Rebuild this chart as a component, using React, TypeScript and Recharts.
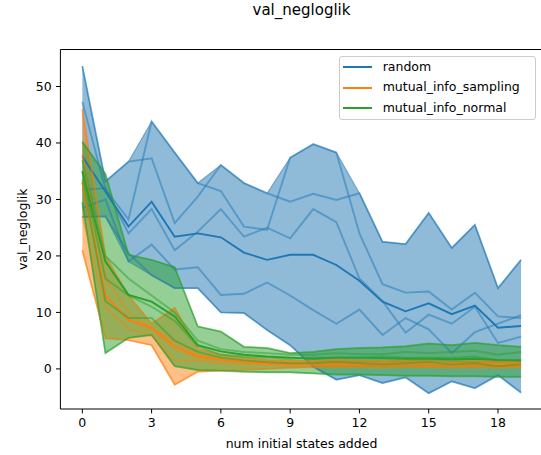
import { Area, ComposedChart, Line, ReferenceLine, XAxis, YAxis } from "recharts";

const steps = [0, 1, 2, 3, 4, 5, 6, 7, 8, 9, 10, 11, 12, 13, 14, 15, 16, 17, 18, 19];
const xTicks = [0, 3, 6, 9, 12, 15, 18];
const yTicks = [0, 10, 20, 30, 40, 50];

const seriesNames = ["random", "mutual_info_sampling", "mutual_info_normal"];
const seriesColors = ["#1f77b4", "#ff7f0e", "#2ca02c"];

// individual runs
const randomRuns = [
  [53.6, 33.2, 36.7, 37.3, 25.8, 30.5, 36.1, 32.9, 31.1, 29.6, 31.0, 29.9, 31.1, 22.5, 22.1, 27.6, 21.4, 25.5, 14.3, 19.3],
  [47.3, 31.8, 26.5, 43.8, 38.3, 32.9, 31.5, 25.2, 24.6, 37.4, 39.8, 38.3, 24.0, 15.0, 13.5, 13.7, 10.5, 13.5, 9.3, 9.0],
  [31.7, 32.0, 24.0, 28.3, 21.0, 24.3, 28.3, 23.4, 25.0, 23.1, 28.3, 26.0, 16.0, 12.0, 6.4, 9.6, 8.0, 11.0, 4.6, 5.7],
  [28.5, 30.0, 19.0, 22.0, 17.6, 18.0, 13.1, 13.3, 15.3, 13.0, 10.4, 8.0, 10.5, 6.0, 9.0, 7.0, 2.8, 6.5, 8.0, 9.5],
  [26.9, 27.0, 20.5, 16.6, 14.3, 14.3, 10.0, 9.9, 6.9, 4.2, 0.4, -1.9, -1.1, -2.5, -1.5, -4.3, -2.2, -3.4, -1.1, -4.2]
];
const randomMean = [37.6, 31.4, 25.2, 29.6, 23.4, 24.0, 23.3, 20.6, 19.3, 20.2, 20.2, 18.4, 15.6, 11.9, 10.2, 11.6, 9.7, 11.2, 7.3, 7.6];

const samplingRuns = [
  [46.0, 20.0, 13.0, 8.0, 10.8, 3.5, 2.5, 2.0, 1.6, 1.5, 1.4, 1.6, 1.5, 1.4, 1.6, 1.8, 1.7, 1.5, 1.4, 1.3],
  [38.0, 16.0, 10.0, 7.2, 5.0, 2.5, 2.0, 1.5, 1.2, 1.2, 1.1, 1.2, 1.1, 1.0, 1.2, 1.3, 1.1, 1.0, 1.0, 1.0],
  [33.0, 13.0, 8.5, 7.0, 3.5, 2.0, 1.5, 1.2, 1.0, 0.9, 0.9, 0.9, 0.8, 0.9, 0.9, 0.8, 0.9, 0.8, 0.7, 0.7],
  [27.0, 11.0, 7.0, 6.0, 1.5, 1.5, 1.0, 0.8, 0.7, 0.6, 0.6, 0.7, 0.6, 0.6, 0.6, 0.5, 0.5, 0.6, 0.5, 0.5],
  [21.0, 5.4, 5.1, 4.2, -2.8, -0.5, -0.3, -0.2, 0.0, 0.2, 0.3, 0.3, 0.3, 0.2, 0.3, 0.3, 0.2, 0.3, 0.2, 0.3]
];
const samplingMean = [33.0, 13.0, 8.7, 7.3, 4.0, 2.2, 1.6, 1.2, 1.0, 0.9, 0.9, 1.0, 0.9, 0.9, 1.0, 1.0, 0.9, 0.9, 0.8, 0.8];

const normalRuns = [
  [40.2, 34.5, 20.2, 19.3, 18.0, 7.5, 6.6, 3.9, 3.7, 2.8, 3.0, 3.5, 3.7, 3.8, 4.0, 4.5, 4.2, 4.6, 4.2, 3.9],
  [37.0, 20.0, 16.0, 13.0, 10.0, 5.0, 3.5, 3.0, 2.8, 2.5, 2.5, 2.8, 2.6, 2.6, 3.0, 2.8, 3.0, 3.2, 2.5, 3.0],
  [35.0, 16.0, 13.0, 11.0, 8.5, 4.0, 2.5, 2.2, 2.0, 1.8, 2.0, 2.0, 2.0, 2.2, 2.0, 2.0, 2.0, 2.2, 1.5, 1.6],
  [33.5, 12.0, 9.0, 9.0, 5.0, 3.0, 2.0, 1.5, 1.2, 1.0, 1.0, 1.2, 1.0, 0.8, 1.0, 1.2, 0.8, 1.0, 0.5, 0.8],
  [29.5, 2.8, 5.5, 6.0, 0.5, -0.2, -0.3, -0.5, -0.6, -0.6, -0.8, -1.0, -1.0, -1.1, -1.2, -1.2, -1.3, -1.3, -1.4, -1.4]
];
const normalMean = [35.0, 19.0, 13.1, 11.9, 9.3, 4.2, 3.1, 2.5, 2.2, 2.0, 1.8, 2.0, 2.0, 1.9, 1.8, 1.8, 1.7, 1.8, 1.6, 1.5];

const groups = [
  { runs: randomRuns, mean: randomMean },
  { runs: samplingRuns, mean: samplingMean },
  { runs: normalRuns, mean: normalMean }
];

const xMin = -0.95;
const xMax = 19.95;
const yMin = -7.1;
const yMax = 56.55;

// band = min/max over runs, like fill_between in the source plot
const rows = steps.map((step, i) => {
  const row: Record<string, number | number[]> = { step };
  groups.forEach((g, gi) => {
    const vals = g.runs.map((r) => r[i]);
    row[`band${gi}`] = [Math.min(...vals), Math.max(...vals)];
    g.runs.forEach((r, ri) => {
      row[`run${gi}_${ri}`] = r[i];
    });
    row[`mean${gi}`] = g.mean[i];
  });
  return row;
});

const font = "'DejaVu Sans', sans-serif";

export default function App() {
  return (
    <div
      style={{
        position: "absolute",
        left: 0,
        top: 0,
        width: 541,
        height: 455,
        overflow: "hidden",
        background: "#fff",
        fontFamily: font,
        color: "#000"
      }}
    >
      <ComposedChart width={560} height={455} data={rows} margin={{ top: 49.5, right: 17, bottom: 0, left: 0 }}>
        <XAxis
          type="number"
          dataKey="step"
          domain={[xMin, xMax]}
          allowDataOverflow
          ticks={xTicks}
          height={46}
          tickSize={4.4}
          tickMargin={5}
          stroke="#000"
          tick={{ fill: "#000", fontSize: 12.5, fontFamily: font }}
        />
        <YAxis
          type="number"
          domain={[yMin, yMax]}
          allowDataOverflow
          ticks={yTicks}
          width={60.4}
          tickSize={4.4}
          tickMargin={4.4}
          stroke="#000"
          tick={{ fill: "#000", fontSize: 12.5, fontFamily: font }}
        />
        {groups.map((g, gi) => [
          <Area
            key={`band${gi}`}
            type="linear"
            dataKey={`band${gi}`}
            fill={seriesColors[gi]}
            fillOpacity={0.5}
            stroke={seriesColors[gi]}
            strokeOpacity={0.5}
            strokeWidth={1.2}
            isAnimationActive={false}
            dot={false}
            activeDot={false}
          />,
          ...g.runs.map((_, ri) => (
            <Line
              key={`run${gi}_${ri}`}
              type="linear"
              dataKey={`run${gi}_${ri}`}
              stroke={seriesColors[gi]}
              strokeOpacity={0.5}
              strokeWidth={1.9}
              dot={false}
              activeDot={false}
              isAnimationActive={false}
            />
          )),
          <Line
            key={`mean${gi}`}
            type="linear"
            dataKey={`mean${gi}`}
            stroke={seriesColors[gi]}
            strokeWidth={1.9}
            dot={false}
            activeDot={false}
            isAnimationActive={false}
          />
        ])}
        <ReferenceLine y={yMax} stroke="#000" strokeWidth={1} />
      </ComposedChart>

      <div style={{ position: "absolute", left: 0, width: 603, top: 3.3, textAlign: "center", fontSize: 15, lineHeight: "15px" }}>
        val_negloglik
      </div>
      <div style={{ position: "absolute", left: 0, width: 603, top: 438.4, textAlign: "center", fontSize: 12.5, lineHeight: "12.5px" }}>
        num initial states added
      </div>
      <div
        style={{
          position: "absolute",
          left: 23 - 100,
          top: 229 - 6.25,
          width: 200,
          height: 12.5,
          textAlign: "center",
          fontSize: 12.5,
          lineHeight: "12.5px",
          transform: "rotate(-90deg)"
        }}
      >
        val_negloglik
      </div>

      <div
        style={{
          position: "absolute",
          left: 339,
          top: 55.75,
          width: 197,
          height: 64,
          boxSizing: "border-box",
          border: "1px solid #cccccc",
          borderRadius: 3,
          background: "rgba(255,255,255,0.8)",
          fontSize: 12.5
        }}
      >
        {seriesNames.map((name, i) => (
          <div
            key={name}
            style={{ position: "absolute", left: 0, top: 0.25 + i * 20.7, height: 20, display: "flex", alignItems: "center" }}
          >
            <div style={{ marginLeft: 3.3, width: 28.7, height: 1.9, background: seriesColors[i] }} />
            <div style={{ marginLeft: 10.7, lineHeight: "12.5px", whiteSpace: "nowrap" }}>{name}</div>
          </div>
        ))}
      </div>
    </div>
  );
}
